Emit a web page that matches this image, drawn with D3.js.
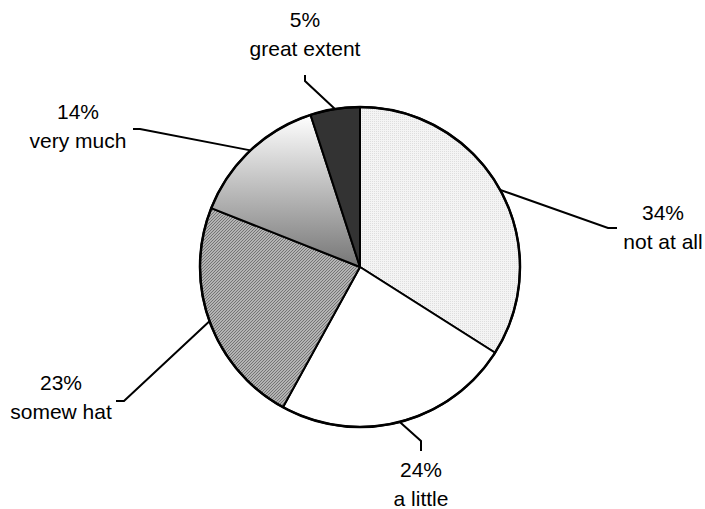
<!DOCTYPE html>
<html>
<head>
<meta charset="utf-8">
<script src="https://cdn.jsdelivr.net/npm/d3@7"></script>
<style>
  body { margin: 0; background: #fff; }
  text { font-family: "Liberation Sans", Arial, sans-serif; font-size: 21px; fill: #000; }
</style>
</head>
<body>
<div id="chart"></div>
<script>
// data, clockwise from 12 o'clock
const categories = ["not at all", "a little", "somew hat", "very much", "great extent"];
const values = [34, 24, 23, 14, 5];
const pctLabels = ["34%", "24%", "23%", "14%", "5%"];
const fills = ["url(#dots)", "#ffffff", "url(#hatch)", "url(#grad)", "#333333"];

// label placement: box centre (lx, ly), leader elbow (ex, ey), leader end (tx, ty)
const labelLayout = [
  {lx: 663, ly: 228, ex: 608, ey: 228, tx: 617, ty: 228},
  {lx: 421, ly: 485, ex: 421, ey: 441, tx: 421, ty: 451},
  {lx: 61,  ly: 398, ex: 124, ey: 401, tx: 116, ty: 401},
  {lx: 78,  ly: 127, ex: 140, ey: 129, tx: 133, ty: 129},
  {lx: 305, ly: 35,  ex: 305, ey: 81,  tx: 305, ty: 75}
];

const width = 705, height = 509;
const cx = 360, cy = 267, radius = 160;

const svg = d3.select("#chart")
    .append("svg")
    .attr("width", width)
    .attr("height", height);

const defs = svg.append("defs");

// fine dotted fill
const dots = defs.append("pattern")
    .attr("id", "dots")
    .attr("patternUnits", "userSpaceOnUse")
    .attr("width", 2).attr("height", 2);
dots.append("rect").attr("width", 2).attr("height", 2).attr("fill", "#f4f4f4");
dots.append("rect").attr("width", 1).attr("height", 1).attr("fill", "#dedede");

// diagonal hatch
const hatch = defs.append("pattern")
    .attr("id", "hatch")
    .attr("patternUnits", "userSpaceOnUse")
    .attr("width", 3).attr("height", 3);
hatch.append("rect").attr("width", 3).attr("height", 3).attr("fill", "#cfcfcf");
hatch.append("path")
    .attr("d", "M-1,1 L1,-1 M0,3 L3,0 M2,4 L4,2")
    .attr("stroke", "#707070")
    .attr("stroke-width", 1.1);

// white to grey gradient, top of pie down to centre
const grad = defs.append("linearGradient")
    .attr("id", "grad")
    .attr("gradientUnits", "userSpaceOnUse")
    .attr("x1", 0).attr("y1", -radius + 8)
    .attr("x2", 0).attr("y2", 0);
grad.append("stop").attr("offset", 0).attr("stop-color", "#ffffff");
grad.append("stop").attr("offset", 1).attr("stop-color", "#767676");

const g = svg.append("g")
    .attr("transform", `translate(${cx},${cy})`);

const pie = d3.pie().sort(null).value(d => d);
const arcs = pie(values);

const arc = d3.arc().innerRadius(0).outerRadius(radius);

g.selectAll("path.slice")
    .data(arcs)
    .join("path")
    .attr("class", "slice")
    .attr("d", arc)
    .attr("fill", (d, i) => fills[i])
    .attr("stroke", "#000")
    .attr("stroke-width", 2)
    .attr("stroke-linejoin", "round");

// outer rim
g.append("circle")
    .attr("r", radius)
    .attr("fill", "none")
    .attr("stroke", "#000")
    .attr("stroke-width", 2.5);

// leader lines from slice mid-angle on rim
const edgePoint = d => {
    const a = (d.startAngle + d.endAngle) / 2;
    return [cx + radius * Math.sin(a), cy - radius * Math.cos(a)];
};

svg.selectAll("polyline.leader")
    .data(arcs)
    .join("polyline")
    .attr("class", "leader")
    .attr("points", (d, i) => {
        const p = edgePoint(d), l = labelLayout[i];
        return [p, [l.ex, l.ey], [l.tx, l.ty]].map(q => q.join(",")).join(" ");
    })
    .attr("fill", "none")
    .attr("stroke", "#000")
    .attr("stroke-width", 2);

// two-line labels
const lab = svg.selectAll("text.label")
    .data(arcs)
    .join("text")
    .attr("class", "label")
    .attr("text-anchor", "middle")
    .attr("transform", (d, i) => `translate(${labelLayout[i].lx},${labelLayout[i].ly})`);

lab.append("tspan")
    .attr("x", 0).attr("y", -8)
    .text((d, i) => pctLabels[i]);
lab.append("tspan")
    .attr("x", 0).attr("y", 21)
    .text((d, i) => categories[i]);
</script>
</body>
</html>
